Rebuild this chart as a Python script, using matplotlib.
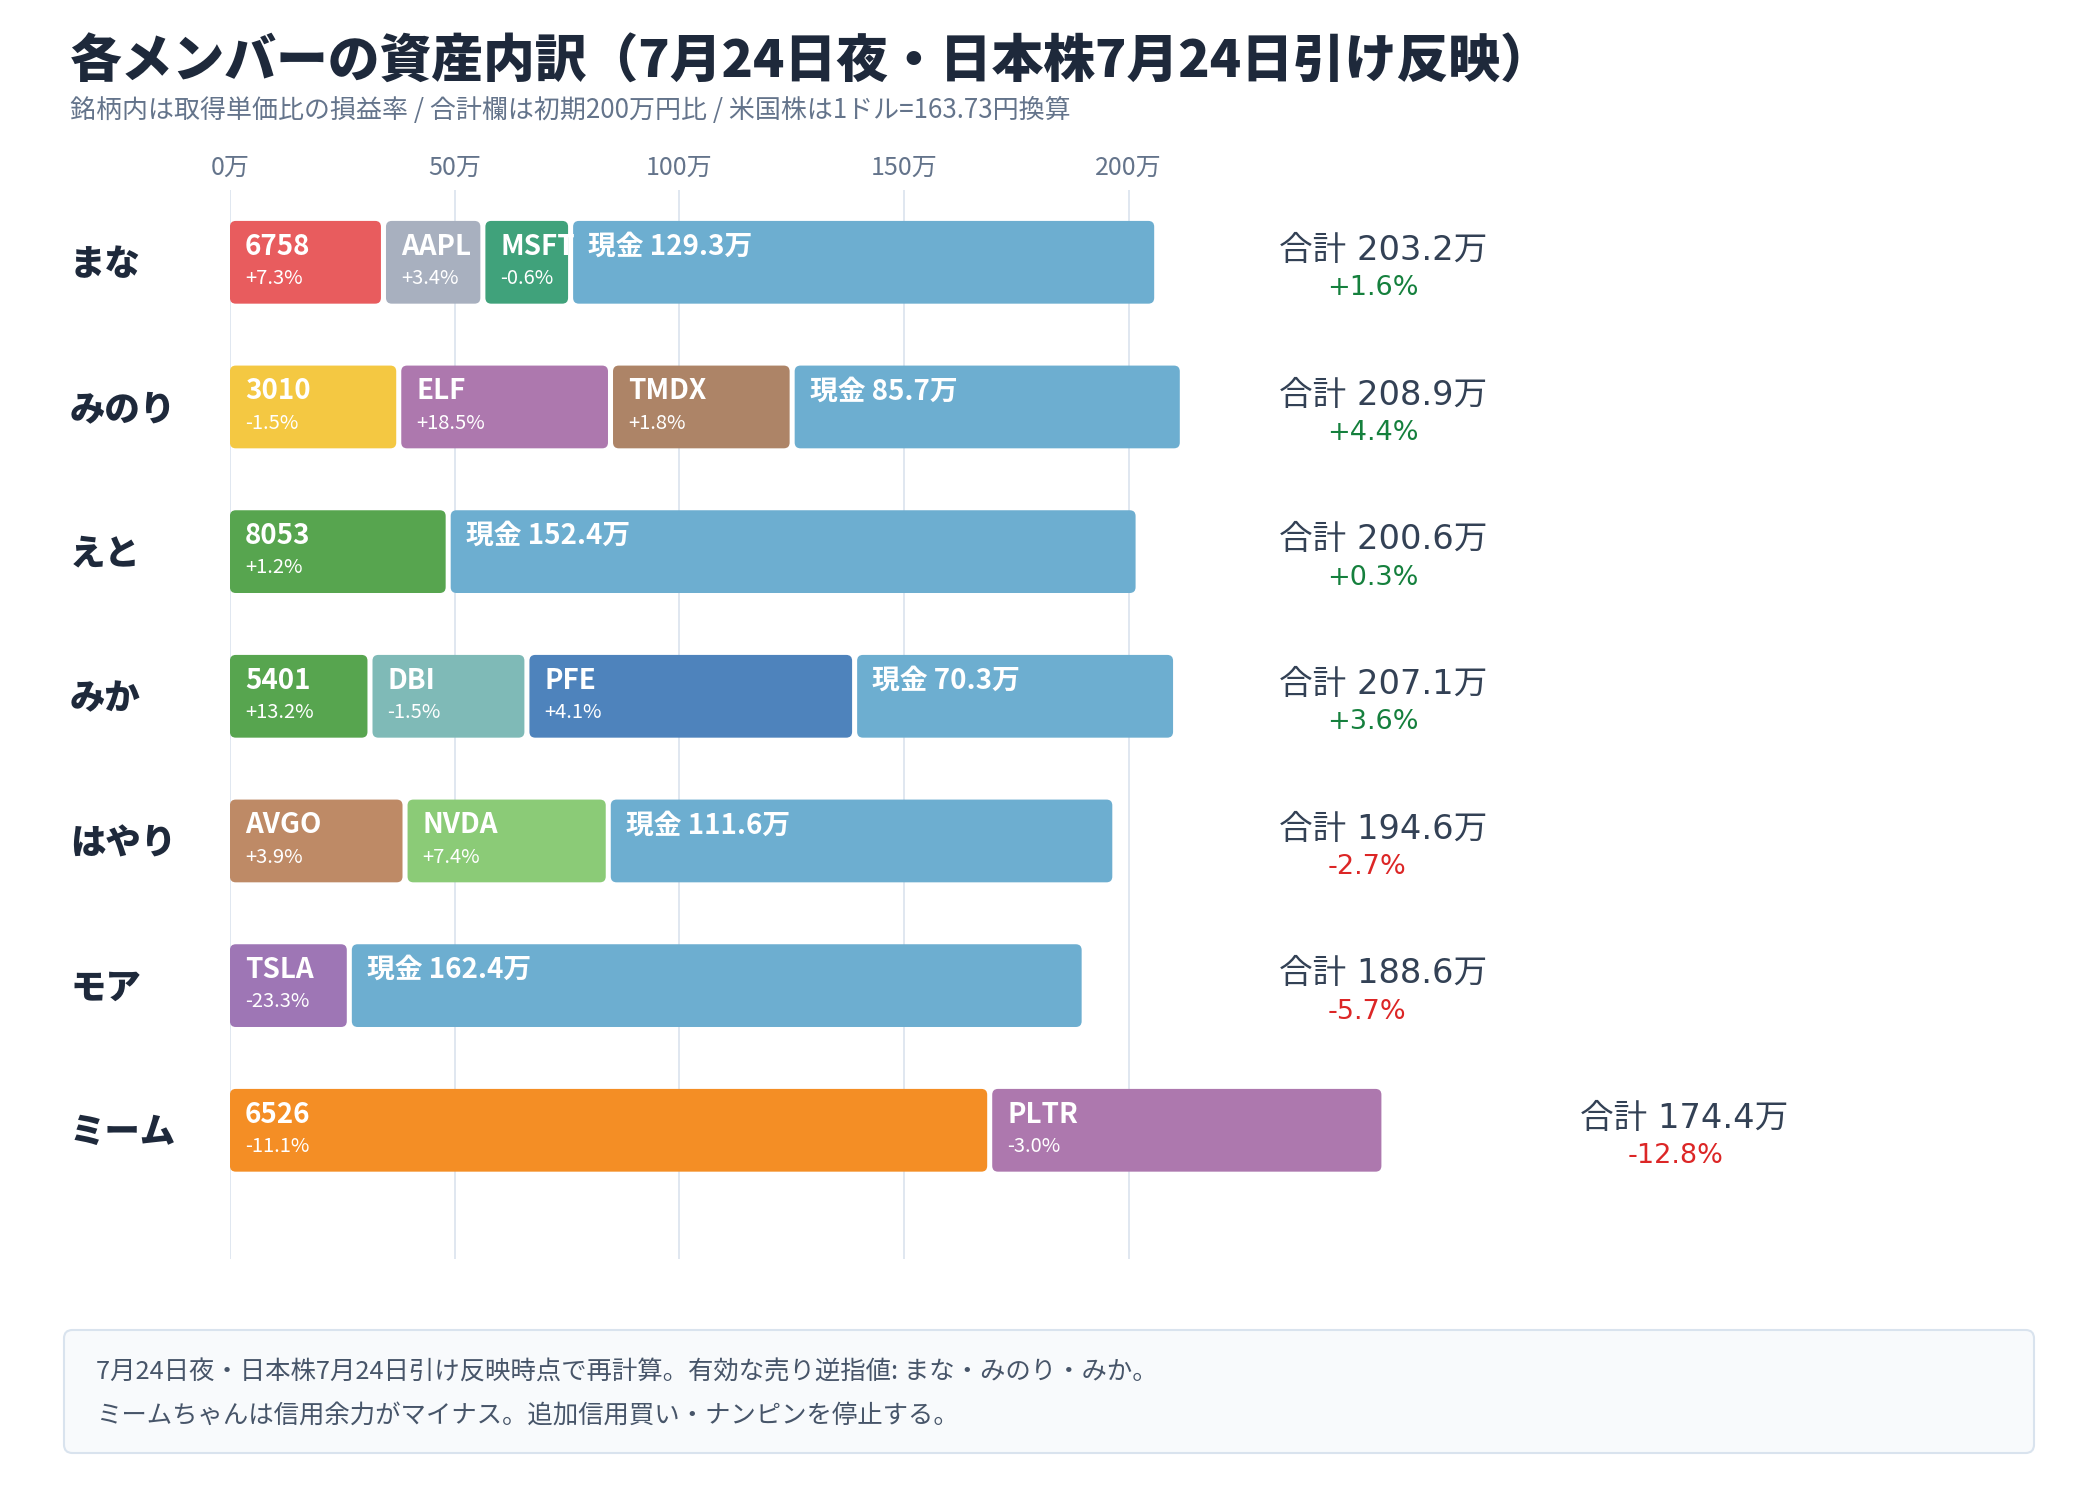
import matplotlib
matplotlib.use("Agg")
import matplotlib.pyplot as plt
from matplotlib.patches import FancyBboxPatch
from matplotlib import transforms

plt.rcParams['font.family'] = ['Noto Sans CJK JP', 'DejaVu Sans']

# data
members = ["まな", "みのり", "えと", "みか", "はやり", "モア", "ミーム"]
tickers = [
    ["6758", "AAPL", "MSFT", "現金"],
    ["3010", "ELF", "TMDX", "現金"],
    ["8053", "現金"],
    ["5401", "DBI", "PFE", "現金"],
    ["AVGO", "NVDA", "現金"],
    ["TSLA", "現金"],
    ["6526", "PLTR"],
]
values = [
    [33.6, 21.0, 18.4, 129.3],
    [37.0, 46.0, 39.3, 85.7],
    [48.0, 152.4],
    [30.6, 33.8, 71.8, 70.3],
    [38.4, 44.1, 111.6],
    [26.0, 162.4],
    [168.5, 86.6],
]
pnl = [
    [7.3, 3.4, -0.6, None],
    [-1.5, 18.5, 1.8, None],
    [1.2, None],
    [13.2, -1.5, 4.1, None],
    [3.9, 7.4, None],
    [-23.3, None],
    [-11.1, -3.0],
]
totals = [203.2, 208.9, 200.6, 207.1, 194.6, 188.6, 174.4]
total_pct = [1.6, 4.4, 0.3, 3.6, -2.7, -5.7, -12.8]
ticks = [0, 50, 100, 150, 200]
tick_labels = ["0万", "50万", "100万", "150万", "200万"]

colors = {
    "6758": "#e85c5e", "AAPL": "#a8b0bf", "MSFT": "#40a27b", "現金": "#6daed0",
    "3010": "#f4c842", "ELF": "#ad78ae", "TMDX": "#ad8467", "8053": "#57a54f",
    "5401": "#57a54f", "DBI": "#7fbab7", "PFE": "#4e83bc", "AVGO": "#be8a66",
    "NVDA": "#8bcb77", "TSLA": "#9e76b5", "6526": "#f48e25", "PLTR": "#ad78ae",
}

dark = "#1e293b"
gray = "#64748b"
wide = ['DejaVu Sans', 'Noto Sans CJK JP']

fig = plt.figure(figsize=(21, 15.1), dpi=100)
ax = fig.add_axes([0.1095, 0.1662, 0.856, 0.708])
ax.set_xlim(0, 400)
ax.set_ylim(6.89, -0.5)
for s in ax.spines.values():
    s.set_visible(False)
ax.xaxis.tick_top()
ax.set_xticks(ticks)
ax.set_xticklabels(tick_labels, fontsize=18, color=gray)
ax.tick_params(axis='x', length=0, pad=6.5)
ax.set_yticks([])
ax.grid(axis='x', color="#dde5ef", linewidth=1.3)
ax.set_axisbelow(True)

bar_h = 0.572
gap = 1.12
xpx = 4.496  # px per 万
ypx = 145.0  # px per row
aspect = xpx / ypx

name_tr = transforms.blended_transform_factory(fig.transFigure, ax.transData)

for i, name in enumerate(members):
    ax.annotate(name, (70 / 2100, i), xycoords=name_tr, xytext=(0, -1.5),
                textcoords='offset points', ha='left', va='center',
                fontsize=25.5, fontweight='heavy', color=dark)
    left = 0.0
    for tk, v, p in zip(tickers[i], values[i], pnl[i]):
        patch = FancyBboxPatch((left, i - bar_h / 2), v, bar_h,
                               boxstyle="round,pad=0,rounding_size=1.3",
                               mutation_aspect=aspect,
                               facecolor=colors[tk], edgecolor='none', zorder=2)
        ax.add_patch(patch)
        label = f"{tk} {values[i][-1]}万" if tk == "現金" else tk
        t1 = ax.annotate(label, (left, i), xytext=(10.8, 11.3), textcoords='offset points',
                         ha='left', va='center', fontsize=20, fontweight='bold',
                         color='white', zorder=3)
        t1.set_clip_path(patch)
        if p is not None:
            t2 = ax.annotate(f"{p:+.1f}%", (left, i), xytext=(10.8, -11.7),
                             textcoords='offset points', ha='left', va='center',
                             fontsize=14.5, color='white', zorder=3)
            t2.set_clip_path(patch)
        left += v + gap
    lx = 233.5 if left <= 220 else left + 43
    ax.annotate(f"合計 {totals[i]}万", (lx, i), xytext=(0, 8.5), textcoords='offset points',
                ha='left', va='center', fontsize=24.2, color="#334155", family=wide)
    pc = "#15803d" if total_pct[i] >= 0 else "#dc2626"
    ax.annotate(f"{total_pct[i]:+.1f}%", (lx, i), xytext=(34.6, -18.8),
                textcoords='offset points', ha='left', va='center', fontsize=19.5,
                color=pc, family=wide)

fig.text(70 / 2100, 1 - 62 / 1510, "各メンバーの資産内訳（7月24日夜・日本株7月24日引け反映）",
         ha='left', va='center', fontsize=37.3, fontweight='heavy', color=dark)
fig.text(70 / 2100, 1 - 110 / 1510,
         "銘柄内は取得単価比の損益率 / 合計欄は初期200万円比 / 米国株は1ドル=163.73円換算",
         ha='left', va='center', fontsize=18.7, color=gray)

box = FancyBboxPatch((64 / 2100, 1 - 1453 / 1510), (2034 - 64) / 2100, 123 / 1510,
                     boxstyle="round,pad=0,rounding_size=0.004",
                     mutation_aspect=2100 / 1510, transform=fig.transFigure,
                     facecolor="#f8fafc", edgecolor="#d9e3ee", linewidth=1.5)
fig.patches.append(box)
fig.text(96 / 2100, 1 - 1372 / 1510,
         "7月24日夜・日本株7月24日引け反映時点で再計算。有効な売り逆指値: まな・みのり・みか。",
         ha='left', va='center', fontsize=18.3, color="#475569")
fig.text(96 / 2100, 1 - 1416 / 1510,
         "ミームちゃんは信用余力がマイナス。追加信用買い・ナンピンを停止する。",
         ha='left', va='center', fontsize=18.3, color="#475569")

fig.savefig("out.png", dpi=100, facecolor='white')
